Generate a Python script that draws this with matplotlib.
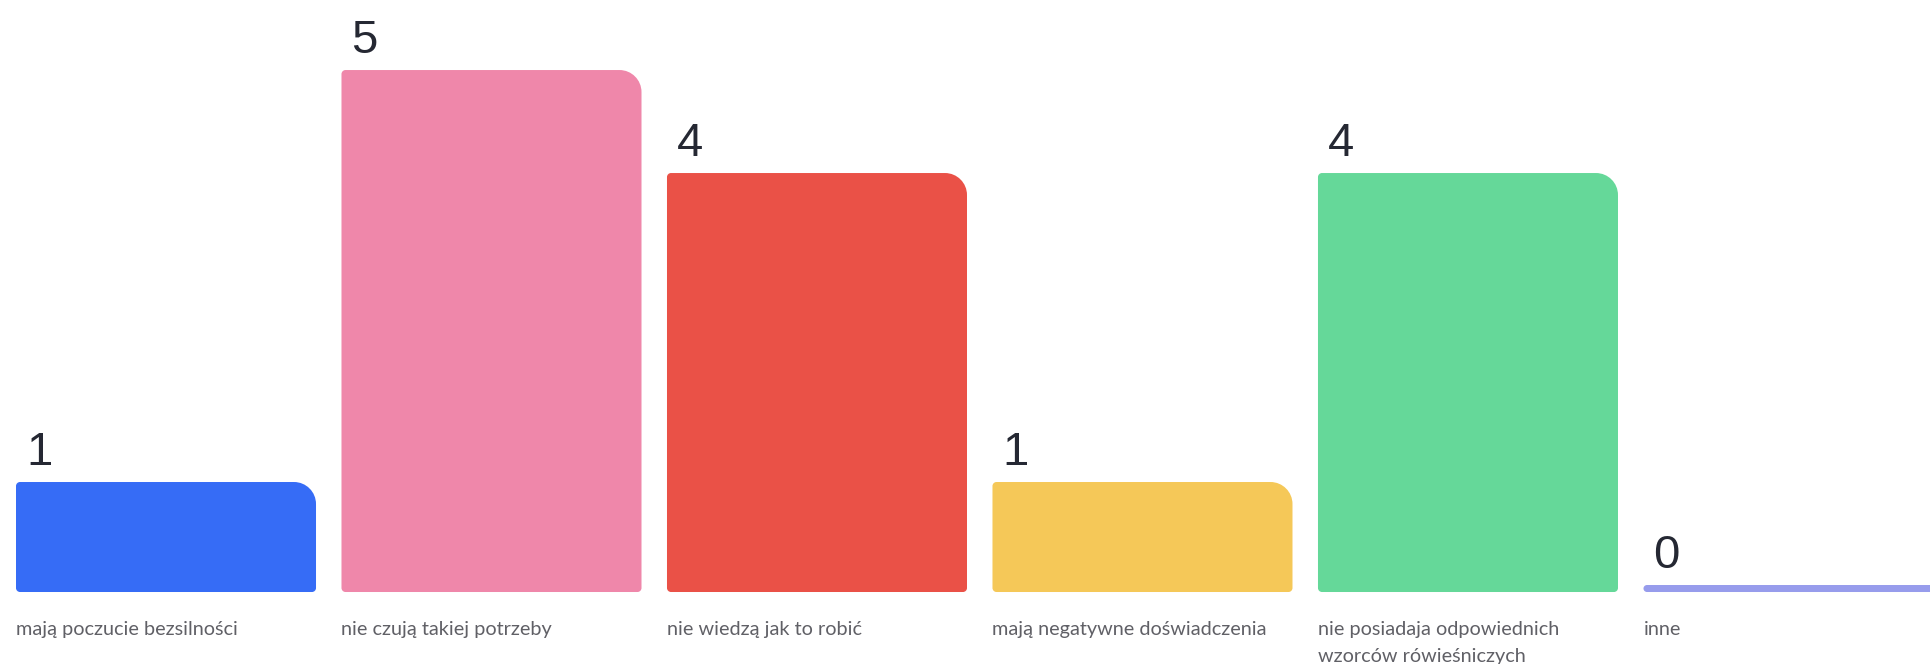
import matplotlib
matplotlib.use("Agg")
import matplotlib.pyplot as plt
from matplotlib.path import Path
from matplotlib.patches import PathPatch

categories = ["mają poczucie bezsilności", "nie czują takiej potrzeby",
              "nie wiedzą jak to robić", "mają negatywne doświadczenia",
              "nie posiadaja odpowiednich\nwzorców rówieśniczych", "inne"]
values = [1, 5, 4, 1, 4, 0]
colors = ["#366CF6", "#EF87AA", "#EA5147", "#F5C858", "#65D899", "#979CEC"]

W, H, DPI = 1931, 664, 100
fig = plt.figure(figsize=(W / DPI, H / DPI), dpi=DPI)
ax = fig.add_axes([0, 0, 1, 1])
XL = (-0.51, 5.4225)
YL = (-0.767, 5.68)
ax.set_xlim(*XL)
ax.set_ylim(*YL)
ax.axis("off")

sx = W / (XL[1] - XL[0])   # px per data unit x
sy = H / (YL[1] - YL[0])   # px per data unit y

bar_w = 0.9217
base = -7 / sy
bars = ax.bar(range(len(values)), [v - base for v in values], bottom=base,
              width=bar_w, color=colors)

K = 0.5523


def rounded_path(x0, y0, w, h, radii):
    wp, hp = w * sx, h * sy
    rs = []
    for r in radii:
        r = min(r, wp / 2, hp / 2)
        rs.append((r / sx, r / sy))
    (tlx, tly), (trx, try_), (brx, bry), (blx, bly) = rs
    x1, y1 = x0 + w, y0 + h
    verts = [
        (x0 + blx, y0),
        (x1 - brx, y0),
        (x1 - brx + K * brx, y0), (x1, y0 + bry - K * bry), (x1, y0 + bry),
        (x1, y1 - try_),
        (x1, y1 - try_ + K * try_), (x1 - trx + K * trx, y1), (x1 - trx, y1),
        (x0 + tlx, y1),
        (x0 + tlx - K * tlx, y1), (x0, y1 - tly + K * tly), (x0, y1 - tly),
        (x0, y0 + bly),
        (x0, y0 + bly - K * bly), (x0 + blx - K * blx, y0), (x0 + blx, y0),
        (x0 + blx, y0),
    ]
    codes = ([Path.MOVETO, Path.LINETO] + [Path.CURVE4] * 3 + [Path.LINETO] +
             [Path.CURVE4] * 3 + [Path.LINETO] + [Path.CURVE4] * 3 +
             [Path.LINETO] + [Path.CURVE4] * 3 + [Path.CLOSEPOLY])
    return Path(verts, codes)


px2pt = 72 / DPI
for rect, c, v, cat in zip(bars, colors, values, categories):
    x0, y0 = rect.get_x(), rect.get_y()
    w, h = rect.get_width(), rect.get_height()
    rect.set_visible(False)
    ax.add_patch(PathPatch(rounded_path(x0, y0, w, h, (4, 22, 4, 4)),
                           facecolor=c, edgecolor="none"))
    ax.annotate(str(v), (x0, v), xytext=(10 * px2pt, 17 * px2pt),
                textcoords="offset points", ha="left", va="baseline",
                fontsize=34, color="#252833", family="Liberation Sans")
    for i, line in enumerate(cat.split("\n")):
        ax.annotate(line, (x0, base), xytext=(0, -(43 + 27 * i) * px2pt),
                    textcoords="offset points", ha="left", va="baseline",
                    fontsize=14.3, color="#606066", family="Lato")

fig.savefig("out.png", dpi=DPI, facecolor="white")
